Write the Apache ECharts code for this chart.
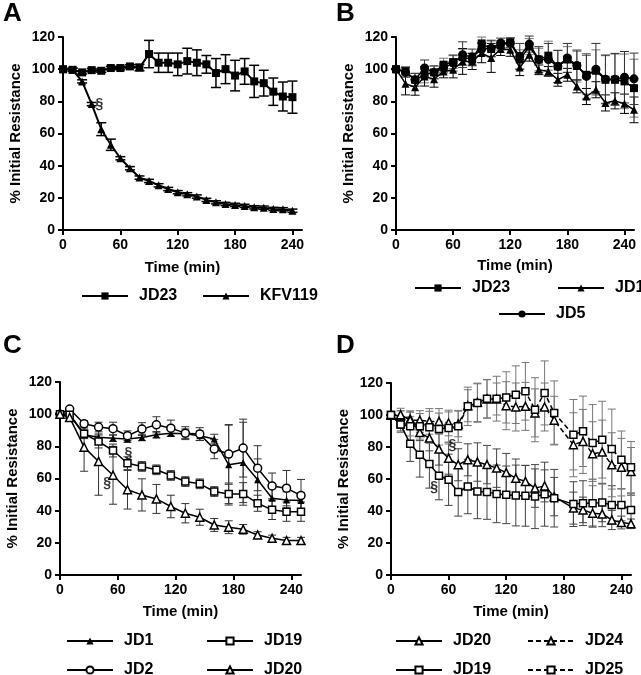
<!DOCTYPE html>
<html lang="en">
<head>
<meta charset="UTF-8">
<title>% Initial Resistance</title>
<script src="https://cdn.jsdelivr.net/npm/echarts@6/dist/echarts.min.js"></script>
<style>
  html, body { margin: 0; padding: 0; background: #fff; }
  #main { width: 641px; height: 675px; }
</style>
</head>
<body>
<div id="main"></div>
<script>
// ---- data ----
var xTicks = [0, 60, 120, 180, 240];

// panel A
var timeA = [0,10,20,30,40,50,60,70,80,90,100,110,120,130,140,150,160,170,180,190,200,210,220,230,240];
var aJD23 = [100,99.6,98,99.4,99,100.7,100.7,101.7,101,109.4,104,104,103,105,104,103,97.6,100,96,98.6,92.4,91.3,86,83,82.6];
var aJD23Err = [0,1,1,1,1,1,1,1,2,8.5,6,6,7,8,8,5.5,9,9,9.5,8,10,8,8.5,9,10];
var aKFV119 = [100,99.6,92.4,78.3,62.7,53,44.6,38.4,32.6,30.5,27.8,25.5,23.5,22.2,20.8,18.7,17.2,16.2,15.6,15,14.1,13.9,13.1,12.9,12];
var aKFV119Err = [0,1,1,1,4,3.5,1,1,1,1,1,1,1,1,1,1,1,1,1,1,1,1,1,1,1];

// panel B
var timeB = [0,10,20,30,40,50,60,70,80,90,100,110,120,130,140,150,160,170,180,190,200,210,220,230,240,250];
var bJD23 = [100,98.6,93.4,96.5,98,102.8,104.4,107.5,106,116,112.5,114.8,116.7,106,114,106,108.4,101.7,106,102,96.5,99,93.4,93.4,92.4,88.2];
var bJD23Err = [0,3,4,5,4,4,4,5,4,4,5,3,3,6,5,7,9,10,8,10,12,13,15,16,17,18];
var bJD1 = [100,91,88.8,95.5,93.8,98.6,99.6,104.8,104.8,110,107,112.5,112,101,109,99.6,98.6,93.4,96.5,89.3,83,87.2,79,80.3,78.5,74.7];
var bJD1Err = [0,7,5,6,5,4,5,8,5,6,9,4,4,5,4,3,3,4,4,4,5,5,5,5,6,8];
var bJD5 = [100,98,93.4,100.7,98,100.7,103.8,109,107.5,112.5,113,116.3,116.3,108,115.6,106,106,101.7,107,102.3,95.5,100,93.8,93.8,95,94];
var bJD5Err = [0,3,4,5,4,3,5,8,5,4,5,3,3,8,5,8,10,10,9,9,14,16,15,16,16,16];

// panel C
var timeC = [0,10,25,40,55,70,85,100,115,130,145,160,175,190,205,220,235,250];
var cJD1 = [100,99.6,87.2,85.7,85.1,84.5,85.5,87.2,88.2,87.8,86.6,84.5,68.5,70,59.2,47.7,46.7,46.3];
var cJD1Err = [0,1,2,2,2,2,2,2,2,3,3,3,25,25,13,6,5,5];
var cJD2 = [100,103.2,94,92,91,86.6,90.7,93.4,91.3,88.2,87.6,78.3,75.2,78.9,66.4,55.4,54,49.4];
var cJD2Err = [0,1,2,3,4,3,4,5,5,4,4,6,18,18,14,8,11,10];
var cJD19 = [100,99.6,87.8,83,77.4,69.5,67.5,65.4,61.9,58.1,56.7,51.9,50.4,50.4,44.6,40.5,39.4,39.4];
var cJD19Err = [0,1,3,4,4,4,3,3,3,3,3,3,6,7,5,6,6,6];
var cJD20 = [100,98,79.5,70.6,62,53,49.8,47.3,42.6,38.4,35.9,31.1,29.7,28.4,24.9,22.8,21.4,21.4];
var cJD20Err = [0,2,15,21,18,12,10,9,7,6,5,4,4,3,2,2,2,2];

// panel D
var timeD = [0,10,20,30,40,50,60,70,80,90,100,110,120,130,140,150,160,170,190,200,210,220,230,240,250];
var dJD20 = [100,99.6,97.5,89,85.6,78.7,73,68.9,72,70.6,69,66.8,64,60.5,58.5,54.3,55.7,49,41.8,40.7,38.6,38.2,34.4,32.8,32];
var dJD20Err = [0,3,5,5,8,10,10,10,10,12,12,12,12,12,10,12,10,12,10,8,8,8,6,4,3];
var dJD19 = [100,94,82,75.2,69.3,62,59.5,51.8,55.3,52.2,51.8,50.7,50.1,49.7,49.5,49,50.5,48,44.3,44.9,44.9,45.3,43.8,43.8,40.7];
var dJD19Err = [0,4,11,14,15,15,16,15,17,17,17,18,18,19,19,20,20,18,14,14,15,12,12,10,10];
var dJD24 = [100,100.2,96.7,96.7,96,96,95,94.4,105.8,107.9,110,110,105.8,105,105.4,101.3,105,96.7,81.4,83.5,75.8,76.8,68.9,67.4,64.7];
var dJD24Err = [0,4,5,6,8,8,8,8,10,12,12,10,15,15,15,15,15,15,20,20,20,20,20,18,15];
var dJD25 = [100,94,92.9,92.9,92.3,91.2,91.9,92.9,105.4,107.5,110.2,110.2,111,112.7,114.8,103.3,113.8,101.3,87.7,89.8,82.5,84.6,78.7,72,67.4];
var dJD25Err = [0,5,6,8,10,10,10,10,12,12,12,14,16,18,18,20,20,20,22,22,24,24,25,18,16];

// significance marks (panel, time, value)
var sectionMarks = [[0, 38, 78], [2, 71, 76], [2, 49, 57], [3, 64, 81], [3, 45, 55]];

// ---- chart ----
var FONT = 'Liberation Sans, Arial, sans-serif';
var myChart = echarts.init(document.getElementById('main'));

var grids = [
    { left: 63, top: 37, width: 239, height: 193 },
    { left: 396, top: 37, width: 238, height: 193 },
    { left: 60, top: 382, width: 241, height: 193 },
    { left: 391, top: 383, width: 240, height: 192 }
];
var xNameGap = [30, 28, 29, 29];

var xAxes = [], yAxes = [];
for (var i = 0; i < 4; i++) {
    xAxes.push({
        gridIndex: i, type: 'value', min: 0, max: 250,
        name: 'Time (min)', nameLocation: 'middle', nameGap: xNameGap[i],
        nameTextStyle: { fontFamily: FONT, fontWeight: 'bold', fontSize: 15, color: '#000' },
        axisLine: { show: true, onZero: false, lineStyle: { color: '#000', width: 2 } },
        axisTick: { show: true, customValues: xTicks, length: 5, lineStyle: { color: '#000', width: 2 } },
        axisLabel: { customValues: xTicks, margin: 8, fontFamily: FONT, fontWeight: 'bold', fontSize: 14, color: '#000' },
        splitLine: { show: false }
    });
    yAxes.push({
        gridIndex: i, type: 'value', min: 0, max: 120, interval: 20,
        name: '% Initial Resistance', nameLocation: 'middle', nameGap: 40,
        nameTextStyle: { fontFamily: FONT, fontWeight: 'bold', fontSize: 15, color: '#000' },
        axisLine: { show: true, onZero: false, lineStyle: { color: '#000', width: 2 } },
        axisTick: { show: true, length: 5, lineStyle: { color: '#000', width: 2 } },
        axisLabel: { margin: 8, fontFamily: FONT, fontWeight: 'bold', fontSize: 14, color: '#000' },
        splitLine: { show: false }
    });
}

function zip(xs, ys) {
    return xs.map(function (x, k) { return [x, ys[k]]; });
}

function lineSeries(name, panel, xs, ys, symbol, size, open, dashed) {
    return {
        name: name, type: 'line', xAxisIndex: panel, yAxisIndex: panel, z: 3,
        data: zip(xs, ys),
        symbol: symbol, symbolSize: size, showAllSymbol: true,
        lineStyle: { color: '#000', width: panel === 0 ? 2 : 1.5, type: dashed ? [5, 3] : 'solid' },
        itemStyle: open ? { color: '#fff', borderColor: '#000', borderWidth: 1.5 }
                        : { color: '#000', borderColor: '#000', borderWidth: 0 },
        emphasis: { disabled: true },
        animation: false
    };
}

function errSeries(panel, xs, ys, err, color, capW, width) {
    return {
        type: 'custom', xAxisIndex: panel, yAxisIndex: panel, z: 1, silent: true,
        data: xs.map(function (x, k) { return [x, ys[k], err[k]]; }),
        renderItem: function (params, api) {
            var x = api.value(0), y = api.value(1), e = api.value(2);
            if (!e) return { type: 'group', children: [] };
            var top = api.coord([x, y + e]), bot = api.coord([x, y - e]);
            var st = { stroke: color, lineWidth: width };
            return {
                type: 'group', children: [
                    { type: 'line', shape: { x1: top[0], y1: top[1], x2: bot[0], y2: bot[1] }, style: st },
                    { type: 'line', shape: { x1: top[0] - capW / 2, y1: top[1], x2: top[0] + capW / 2, y2: top[1] }, style: st },
                    { type: 'line', shape: { x1: bot[0] - capW / 2, y1: bot[1], x2: bot[0] + capW / 2, y2: bot[1] }, style: st }
                ]
            };
        },
        animation: false
    };
}

var series = [
    // A
    errSeries(0, timeA, aJD23, aJD23Err, '#000', 10, 1.5),
    errSeries(0, timeA, aKFV119, aKFV119Err, '#000', 10, 1.5),
    lineSeries('JD23', 0, timeA, aJD23, 'rect', 8, false, false),
    lineSeries('KFV119', 0, timeA, aKFV119, 'triangle', 8, false, false),
    // B
    errSeries(1, timeB, bJD23, bJD23Err, '#777', 9, 1),
    errSeries(1, timeB, bJD1, bJD1Err, '#000', 9, 1),
    errSeries(1, timeB, bJD5, bJD5Err, '#333', 9, 1),
    lineSeries('JD23', 1, timeB, bJD23, 'rect', 8, false, false),
    lineSeries('JD1', 1, timeB, bJD1, 'triangle', 8, false, false),
    lineSeries('JD5', 1, timeB, bJD5, 'circle', 9, false, false),
    // C
    errSeries(2, timeC, cJD1, cJD1Err, '#333', 8, 1),
    errSeries(2, timeC, cJD2, cJD2Err, '#333', 8, 1),
    errSeries(2, timeC, cJD19, cJD19Err, '#333', 8, 1),
    errSeries(2, timeC, cJD20, cJD20Err, '#333', 8, 1),
    lineSeries('JD1', 2, timeC, cJD1, 'triangle', 7, false, false),
    lineSeries('JD2', 2, timeC, cJD2, 'circle', 8, true, false),
    lineSeries('JD19', 2, timeC, cJD19, 'rect', 7, true, false),
    lineSeries('JD20', 2, timeC, cJD20, 'triangle', 8, true, false),
    // D
    errSeries(3, timeD, dJD20, dJD20Err, '#444', 8, 1),
    errSeries(3, timeD, dJD19, dJD19Err, '#444', 8, 1),
    errSeries(3, timeD, dJD24, dJD24Err, '#777', 8, 1),
    errSeries(3, timeD, dJD25, dJD25Err, '#777', 8, 1),
    lineSeries('JD20', 3, timeD, dJD20, 'triangle', 8, true, false),
    lineSeries('JD19', 3, timeD, dJD19, 'rect', 7, true, false),
    lineSeries('JD24', 3, timeD, dJD24, 'triangle', 8, true, true),
    lineSeries('JD25', 3, timeD, dJD25, 'rect', 7, true, true)
];

// § marks
sectionMarks.forEach(function (m) {
    series.push({
        type: 'scatter', xAxisIndex: m[0], yAxisIndex: m[0], z: 4, silent: true,
        data: [[m[1], m[2]]], symbolSize: 1, itemStyle: { color: 'transparent' },
        label: { show: true, position: 'inside', formatter: '§', color: '#000',
                 fontFamily: FONT, fontWeight: 'bold', fontSize: 14 },
        animation: false
    });
});

// legends: name, left, centre y
var legendItems = [
    ['JD23', 81, 295], ['KFV119', 202, 295],
    ['JD23', 414, 287], ['JD1', 557, 287], ['JD5', 498, 313],
    ['JD1', 66, 640], ['JD19', 206, 640], ['JD2', 66, 669], ['JD20', 206, 669],
    ['JD20', 395, 640], ['JD24', 527, 640], ['JD19', 395, 669], ['JD25', 527, 669]
];
var legends = legendItems.map(function (it) {
    return {
        data: [it[0]], left: it[1], top: it[2] - 7, padding: 0,
        itemWidth: 46, itemHeight: 9, selectedMode: false,
        textStyle: { fontFamily: FONT, fontWeight: 'bold', fontSize: 16, color: '#000', padding: [0, 0, 0, 6] }
    };
});

var letters = [['A', 3, 1], ['B', 336, 1], ['C', 3, 333], ['D', 336, 333]];
var titles = letters.map(function (l) {
    return { text: l[0], left: l[1], top: l[2], padding: 0,
             textStyle: { fontFamily: FONT, fontWeight: 'bold', fontSize: 26, color: '#000' } };
});

var option = {
    backgroundColor: '#fff',
    animation: false,
    title: titles,
    legend: legends,
    grid: grids,
    xAxis: xAxes,
    yAxis: yAxes,
    series: series
};
myChart.setOption(option);
</script>
</body>
</html>
